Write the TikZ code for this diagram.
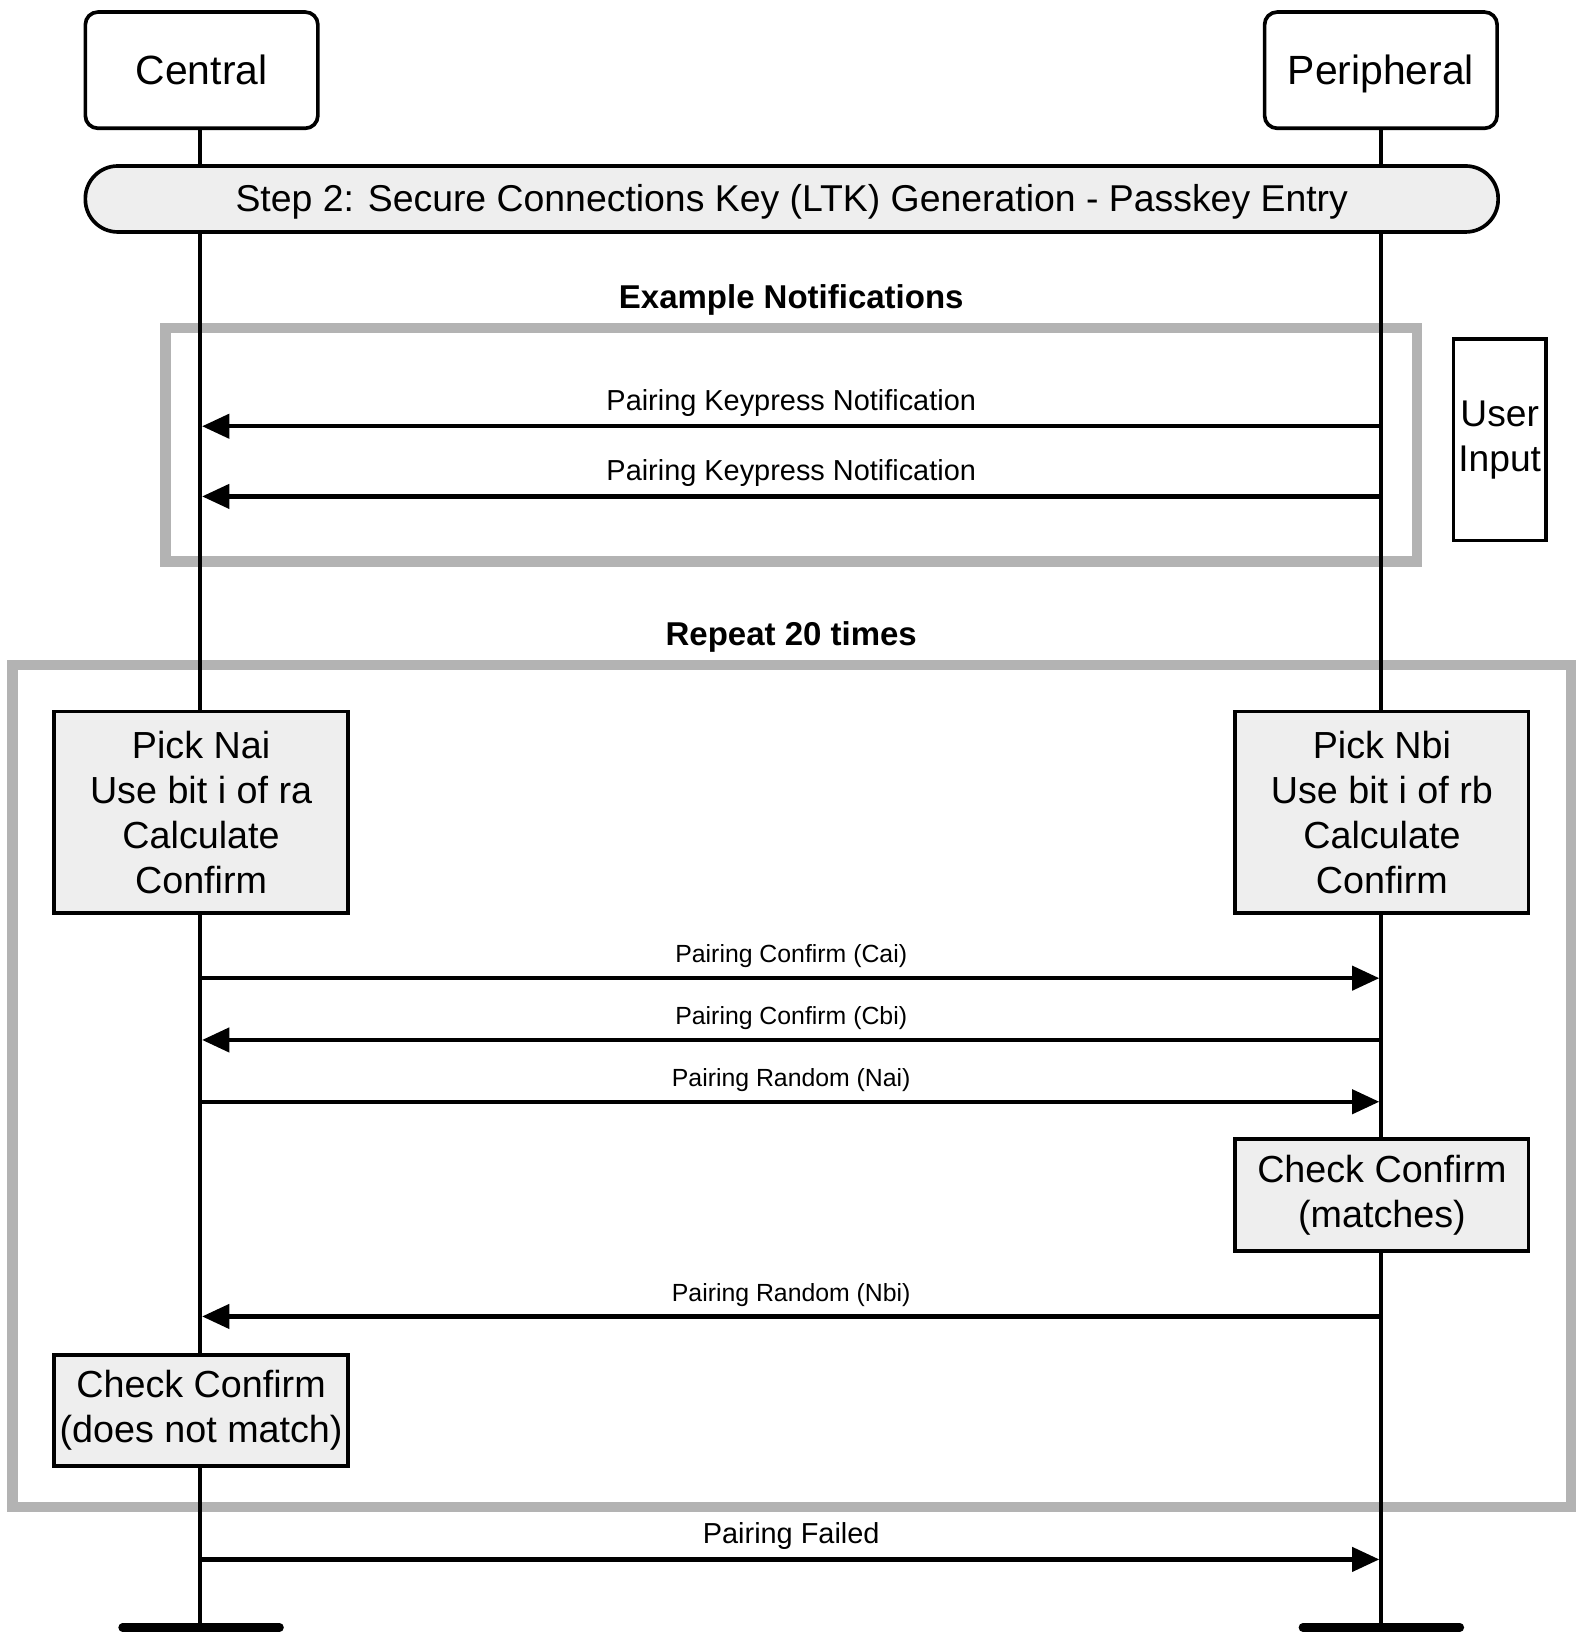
\documentclass[tikz,border=0pt]{standalone}
\usepackage{fontspec}
\setmainfont{Liberation Sans}
\usetikzlibrary{arrows.meta}
\definecolor{framegray}{HTML}{B3B3B3}
\definecolor{boxgray}{HTML}{EEEEEE}
\begin{document}
\begin{tikzpicture}[x=1pt,y=-1pt,
  lifeline/.style={line width=4pt},
  endbar/.style={line width=8pt, line cap=round},
  frame/.style={draw=framegray, line width=10pt},
  actor/.style={draw, fill=white, line width=3.5pt, rounded corners=12pt,
    minimum width=222pt, minimum height=111pt, inner sep=0pt,
    text height=28pt, text depth=0pt,
    font=\fontsize{39}{47}\selectfont},
  stepbar/.style={draw, fill=boxgray, line width=3.5pt, rounded corners=31pt,
    minimum width=1349pt, minimum height=63pt, inner sep=0pt,
    text height=27pt, text depth=3pt,
    font=\fontsize{35.7}{43}\selectfont},
  procbox/.style={draw, fill=boxgray, line width=3.5pt, align=center,
    inner sep=0pt, font=\fontsize{36}{43}\selectfont},
  userbox/.style={draw, line width=3.5pt, align=center, inner sep=0pt,
    minimum width=88pt, minimum height=192pt, font=\fontsize{35.5}{43}\selectfont},
  title/.style={font=\fontsize{31.5}{38}\selectfont\bfseries},
  biglbl/.style={font=\fontsize{27.6}{33}\selectfont, inner sep=0pt},
  smalllbl/.style={font=\fontsize{23.7}{29}\selectfont, inner sep=0pt},
  msg/.style={line width=4pt, shorten >=2pt, -{Triangle[length=26pt,width=23pt]}}
]
\useasboundingbox (0,0) rectangle (1509,1565);

% frames
\draw[frame] (158,313) rectangle (1353,536);
\draw[frame] (12,635) rectangle (1500,1439);
\node[title] (ex) at (755.5,286) {Example Notifications};
\node[title] (rep) at (755.5,608) {Repeat 20 times};

% lifeline coordinates
\coordinate (cTop) at (191,100);
\coordinate (cEnd) at (191,1554);
\coordinate (pTop) at (1319,100);
\coordinate (pEnd) at (1319,1554);
\draw[lifeline] (cTop) -- (cEnd);
\draw[lifeline] (pTop) -- (pEnd);
\coordinate (cbl) at (117,1554); \coordinate (cbr) at (267,1554);
\coordinate (pbl) at (1244,1554); \coordinate (pbr) at (1394,1554);
\draw[endbar] (cbl) -- (cbr);
\draw[endbar] (pbl) -- (pbr);

% actors
\node[actor] (central) at (192.5,67) {Central};
\node[actor] (periph) at (1318.5,67) {Peripheral};
\node[stepbar] (step) at (756,190) {Step 2: Secure Connections Key (LTK) Generation - Passkey Entry};

% user input
\node[userbox] (user) at (1432,420) {User\\Input};

% keypress notifications
\coordinate (k1p) at (1319,407); \coordinate (k1c) at (191,407);
\coordinate (k2p) at (1319,474); \coordinate (k2c) at (191,474);
\node[biglbl] (k1l) at (755.5,385) {Pairing Keypress Notification};
\node[biglbl] (k2l) at (755.5,452) {Pairing Keypress Notification};
\draw[msg] (k1p) -- (k1c);
\draw[msg] (k2p) -- (k2c);

% pick boxes
\node[procbox, minimum width=281pt, minimum height=192pt] (nai) at (192,775.5)
  {Pick Nai\\Use bit i of ra\\Calculate\\Confirm};
\node[procbox, minimum width=280pt, minimum height=192pt] (nbi) at (1319.5,775.5)
  {Pick Nbi\\Use bit i of rb\\Calculate\\Confirm};

% confirm / random
\coordinate (m1c) at (191,934); \coordinate (m1p) at (1319,934);
\coordinate (m2c) at (191,993); \coordinate (m2p) at (1319,993);
\coordinate (m3c) at (191,1052); \coordinate (m3p) at (1319,1052);
\coordinate (m4c) at (191,1257); \coordinate (m4p) at (1319,1257);
\node[smalllbl] (m1l) at (755.5,913) {Pairing Confirm (Cai)};
\node[smalllbl] (m2l) at (755.5,972) {Pairing Confirm (Cbi)};
\node[smalllbl] (m3l) at (755.5,1031) {Pairing Random (Nai)};
\node[smalllbl] (m4l) at (755.5,1237) {Pairing Random (Nbi)};
\draw[msg] (m1c) -- (m1p);
\draw[msg] (m2p) -- (m2c);
\draw[msg] (m3c) -- (m3p);
\draw[msg] (m4p) -- (m4c);

% check boxes
\node[procbox, minimum width=280pt, minimum height=107pt] (chkp) at (1319.5,1141)
  {Check Confirm\\(matches)};
\node[procbox, minimum width=281pt, minimum height=106pt] (chkc) at (192,1346.5)
  {Check Confirm\\(does not match)};

% pairing failed
\coordinate (fc) at (191,1489); \coordinate (fp) at (1319,1489);
\node[biglbl] (fl) at (755.5,1467) {Pairing Failed};
\draw[msg] (fc) -- (fp);
\end{tikzpicture}
\end{document}
